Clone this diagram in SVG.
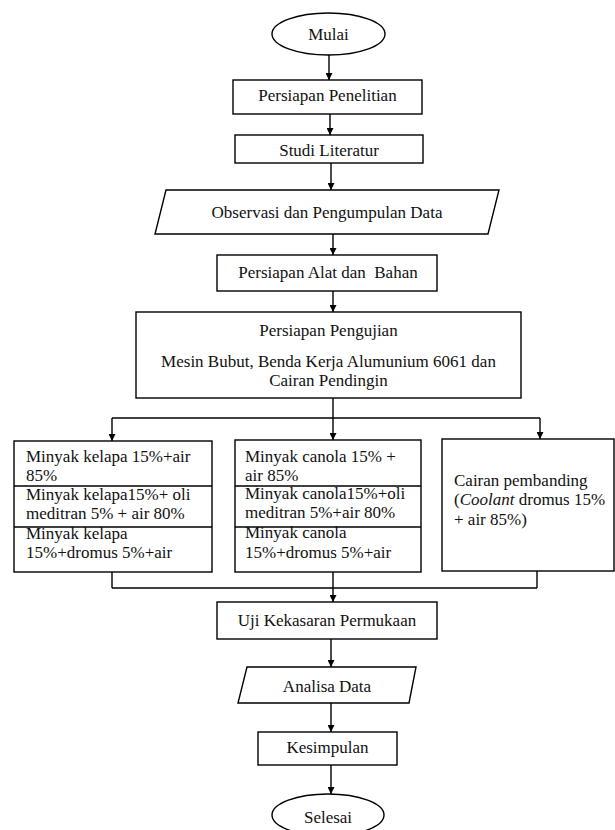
<svg xmlns="http://www.w3.org/2000/svg" width="615" height="830" viewBox="0 0 615 830">
<style>
.s{fill:#fff;stroke:#000;stroke-width:1.4}
.t{font-family:"Liberation Serif","Times New Roman",serif;font-size:17px;fill:#111}
.c{text-anchor:middle}
.ln{fill:none;stroke:#000;stroke-width:1.4}
.ar{fill:none;stroke:#000;stroke-width:1.4;marker-end:url(#ah)}
</style>
<defs>
<marker id="ah" viewBox="0 0 10 10" refX="10" refY="5" markerWidth="7" markerHeight="7" markerUnits="userSpaceOnUse" orient="auto">
<path d="M0,0 L10,5 L0,10 Z" fill="#000"/>
</marker>
</defs>
<rect width="615" height="830" fill="#fff"/>
<g id="connectors">
<line class="ar" x1="329" y1="55" x2="329" y2="80"/>
<line class="ar" x1="330" y1="114" x2="330" y2="135"/>
<line class="ar" x1="331" y1="163" x2="331" y2="190"/>
<line class="ar" x1="333" y1="234" x2="333" y2="255"/>
<line class="ar" x1="333" y1="291" x2="333" y2="312"/>
<line class="ln" x1="333" y1="398" x2="333" y2="418"/>
<polyline class="ln" points="112,418 540,418"/>
<line class="ar" x1="112" y1="418" x2="112" y2="441"/>
<line class="ar" x1="333" y1="418" x2="333" y2="440"/>
<line class="ar" x1="540" y1="418" x2="540" y2="439"/>
<line class="ln" x1="112" y1="572" x2="112" y2="588"/>
<line class="ln" x1="537" y1="571" x2="537" y2="588"/>
<line class="ln" x1="112" y1="588" x2="537" y2="588"/>
<line class="ln" x1="333" y1="572" x2="333" y2="588"/>
<line class="ar" x1="333" y1="588" x2="333" y2="602"/>
<line class="ar" x1="331" y1="639" x2="331" y2="667"/>
<line class="ar" x1="331" y1="703" x2="331" y2="732"/>
<line class="ar" x1="331" y1="765" x2="331" y2="794"/>
</g>
<g id="mulai">
<ellipse class="s" cx="328.5" cy="34" rx="56.5" ry="21"/>
<text class="t c" x="328.5" y="40">Mulai</text>
</g>
<g id="persiapan-penelitian">
<rect class="s" x="233" y="80" width="189" height="34"/>
<text class="t c" x="327.5" y="101">Persiapan Penelitian</text>
</g>
<g id="studi-literatur">
<rect class="s" x="235" y="135" width="188" height="28"/>
<text class="t c" x="329" y="156">Studi Literatur</text>
</g>
<g id="observasi">
<polygon class="s" points="166,190 499,190 488,234 155,234"/>
<text class="t c" x="327" y="218">Observasi dan Pengumpulan Data</text>
</g>
<g id="persiapan-alat">
<rect class="s" x="217" y="255" width="220" height="36"/>
<text class="t c" x="328" y="278" xml:space="preserve">Persiapan Alat dan  Bahan</text>
</g>
<g id="persiapan-pengujian">
<rect class="s" x="136" y="312" width="385" height="86"/>
<text class="t c" x="328.5" y="336">Persiapan Pengujian</text>
<text class="t c" x="328.5" y="367">Mesin Bubut, Benda Kerja Alumunium 6061 dan</text>
<text class="t c" x="328.5" y="386">Cairan Pendingin</text>
</g>
<g id="kelapa">
<rect class="s" x="14" y="441" width="198" height="131"/>
<line class="ln" x1="14" y1="486" x2="212" y2="486"/>
<line class="ln" x1="14" y1="527" x2="212" y2="527"/>
<text class="t" x="26" y="462">Minyak kelapa 15%+air</text>
<text class="t" x="26" y="481">85%</text>
<text class="t" x="26" y="500">Minyak kelapa15%+ oli</text>
<text class="t" x="26" y="519">meditran 5% + air 80%</text>
<text class="t" x="26" y="539">Minyak kelapa</text>
<text class="t" x="26" y="558">15%+dromus 5%+air</text>
</g>
<g id="canola">
<rect class="s" x="235" y="440" width="186" height="132"/>
<line class="ln" x1="235" y1="486" x2="421" y2="486"/>
<line class="ln" x1="235" y1="527" x2="421" y2="527"/>
<text class="t" x="245" y="462">Minyak canola 15% +</text>
<text class="t" x="245" y="481">air 85%</text>
<text class="t" x="245" y="499">Minyak canola15%+oli</text>
<text class="t" x="245" y="518">meditran 5%+air 80%</text>
<text class="t" x="245" y="538">Minyak canola</text>
<text class="t" x="245" y="558">15%+dromus 5%+air</text>
</g>
<g id="pembanding">
<rect class="s" x="442" y="439" width="172" height="132"/>
<text class="t" x="454" y="486">Cairan pembanding</text>
<text class="t" x="454" y="505">(<tspan font-style="italic">Coolant</tspan> dromus 15%</text>
<text class="t" x="454" y="525">+ air 85%)</text>
</g>
<g id="uji">
<rect class="s" x="217" y="602" width="220" height="37"/>
<text class="t c" x="327" y="626">Uji Kekasaran Permukaan</text>
</g>
<g id="analisa">
<polygon class="s" points="247,667 416,667 409,703 238,703"/>
<text class="t c" x="327" y="692">Analisa Data</text>
</g>
<g id="kesimpulan">
<rect class="s" x="258" y="732" width="139" height="33"/>
<text class="t c" x="327.5" y="753">Kesimpulan</text>
</g>
<g id="selesai">
<ellipse class="s" cx="328" cy="815" rx="56" ry="21"/>
<text class="t c" x="328" y="823">Selesai</text>
</g>
</svg>
